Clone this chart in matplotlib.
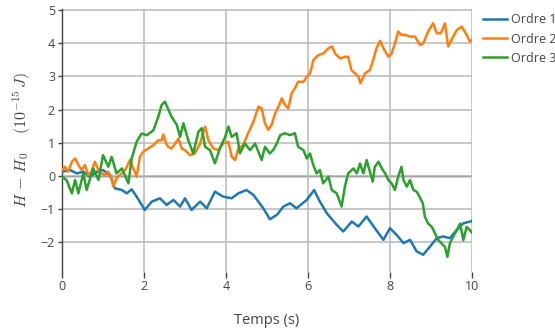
import matplotlib
matplotlib.use("Agg")
import matplotlib.pyplot as plt

plt.rcParams['font.family'] = ['Open Sans', 'DejaVu Sans']
plt.rcParams['mathtext.fontset'] = 'cm'

# Ordre 1 (blue)
t1 = [0.0, 0.2, 0.36, 0.52, 0.68, 0.85, 1.0, 1.17, 1.29, 1.46, 1.58, 1.7, 1.82,
      2.02, 2.19, 2.39, 2.55, 2.72, 2.88, 3.0, 3.16, 3.37, 3.53, 3.73, 3.93,
      4.14, 4.3, 4.5, 4.67, 4.91, 5.07, 5.24, 5.4, 5.56, 5.72, 5.97, 6.15,
      6.29, 6.46, 6.7, 6.86, 7.07, 7.23, 7.43, 7.63, 7.84, 8.0, 8.16, 8.33,
      8.49, 8.65, 8.81, 8.98, 9.14, 9.3, 9.46, 9.63, 9.79, 9.97, 10.0]
h1 = [0.13, 0.18, 0.08, 0.13, -0.02, 0.13, 0.18, 0.03, -0.37, -0.42, -0.52, -0.4, -0.62,
      -1.02, -0.77, -0.67, -0.87, -0.72, -0.92, -0.67, -1.02, -0.77, -0.97, -0.47, -0.62,
      -0.67, -0.52, -0.42, -0.57, -0.97, -1.3, -1.17, -0.92, -0.82, -0.97, -0.72, -0.42,
      -0.77, -1.12, -1.47, -1.67, -1.37, -1.52, -1.22, -1.57, -1.92, -1.57, -1.77, -2.02,
      -1.92, -2.27, -2.37, -2.12, -1.87, -1.82, -1.87, -1.62, -1.42, -1.37, -1.35]

# Ordre 2 (orange)
t2 = [0.0, 0.07, 0.15, 0.24, 0.32, 0.4, 0.48, 0.56, 0.64, 0.72, 0.8, 0.89, 0.97,
      1.05, 1.13, 1.21, 1.25, 1.33, 1.41, 1.54, 1.66, 1.74, 1.82, 1.9, 1.98, 2.1,
      2.23, 2.35, 2.43, 2.47, 2.55, 2.59, 2.67, 2.76, 2.84, 2.92, 3.0, 3.12, 3.24,
      3.37, 3.45, 3.49, 3.57, 3.69, 3.81, 3.93, 4.06, 4.14, 4.22, 4.3, 4.42, 4.54,
      4.67, 4.79, 4.87, 4.95, 5.03, 5.11, 5.2, 5.28, 5.36, 5.44, 5.52, 5.6, 5.68,
      5.76, 5.89, 5.97, 6.05, 6.13, 6.25, 6.37, 6.5, 6.59, 6.66, 6.78, 6.9, 6.98,
      7.06, 7.15, 7.23, 7.28, 7.39, 7.51, 7.59, 7.67, 7.76, 7.84, 7.96, 8.04, 8.12,
      8.2, 8.28, 8.37, 8.49, 8.61, 8.73, 8.81, 8.93, 9.05, 9.14, 9.24, 9.34, 9.42,
      9.5, 9.63, 9.75, 9.87, 9.95, 10.0]
h2 = [0.18, 0.28, 0.13, 0.43, 0.53, 0.33, 0.18, 0.33, 0.03, 0.13, 0.43, 0.18, 0.08,
      0.03, 0.13, -0.07, -0.32, -0.07, 0.03, 0.18, 0.48, 0.23, -0.02, 0.58, 0.73, 0.83,
      0.93, 1.08, 1.08, 1.25, 0.95, 0.88, 0.83, 0.98, 1.13, 0.83, 0.78, 0.63, 0.68,
      0.98, 1.34, 1.49, 1.08, 0.83, 0.78, 0.98, 1.03, 0.58, 0.48, 0.83, 0.93, 1.29,
      1.64, 2.09, 2.04, 1.59, 1.39, 1.54, 1.89, 2.09, 2.34, 2.14, 2.04, 2.49, 2.64,
      2.84, 2.84, 2.99, 3.09, 3.49, 3.64, 3.69, 3.85, 3.9, 3.69, 3.54, 3.59, 3.59,
      3.19, 3.09, 2.99, 2.79, 3.09, 3.19, 3.49, 3.85, 4.07, 3.85, 3.59, 3.69, 3.99,
      4.35, 4.25, 4.25, 4.2, 4.2, 3.95, 3.99, 4.35, 4.6, 4.3, 4.3, 4.6, 3.9,
      4.1, 4.4, 4.5, 4.25, 4.05, 4.1]

# Ordre 3 (green)
t3 = [0.0, 0.11, 0.24, 0.32, 0.4, 0.52, 0.6, 0.76, 0.89, 1.0, 1.13, 1.21, 1.33,
      1.46, 1.62, 1.7, 1.82, 1.94, 2.07, 2.23, 2.35, 2.43, 2.51, 2.67, 2.8, 2.88,
      2.96, 3.08, 3.2, 3.33, 3.41, 3.49, 3.61, 3.73, 3.85, 3.98, 4.06, 4.14, 4.26,
      4.34, 4.46, 4.59, 4.71, 4.87, 4.95, 5.07, 5.15, 5.24, 5.32, 5.44, 5.56, 5.68,
      5.76, 5.89, 5.97, 6.05, 6.13, 6.21, 6.29, 6.37, 6.5, 6.58, 6.7, 6.82, 6.9,
      6.98, 7.11, 7.19, 7.27, 7.35, 7.43, 7.51, 7.58, 7.63, 7.72, 7.8, 7.88, 7.96,
      8.04, 8.12, 8.2, 8.28, 8.33, 8.41, 8.49, 8.57, 8.65, 8.72, 8.8, 8.85, 8.93,
      9.02, 9.1, 9.18, 9.26, 9.34, 9.4, 9.46, 9.54, 9.63, 9.71, 9.79, 9.87, 9.95, 10.0]
h3 = [-0.02, -0.12, -0.52, -0.12, -0.52, 0.08, -0.42, 0.23, -0.12, 0.63, 0.28, 0.58, 0.08,
      0.23, -0.22, 0.53, 1.03, 1.28, 1.23, 1.38, 1.79, 2.14, 2.24, 1.79, 1.54, 1.18,
      1.59, 1.08, 0.68, 1.34, 1.44, 0.88, 0.78, 0.38, 0.83, 1.18, 1.49, 1.18, 1.29,
      0.68, 0.98, 0.78, 0.98, 0.48, 0.88, 0.68, 0.78, 0.98, 1.23, 1.29, 1.23, 1.29,
      0.88, 0.78, 0.53, 0.68, 0.33, 0.08, 0.18, -0.22, -0.02, -0.42, -0.52, -0.92, -0.32,
      0.08, 0.23, 0.08, 0.38, 0.08, 0.48, 0.13, -0.17, 0.28, 0.43, 0.23, 0.08, -0.12,
      -0.22, -0.42, -0.02, 0.28, -0.12, -0.32, -0.12, -0.42, -0.47, -0.62, -0.82, -1.22, -1.43,
      -1.53, -1.73, -1.93, -2.03, -2.13, -2.43, -2.03, -1.83, -1.63, -1.43, -1.93, -1.53, -1.63, -1.7]

labels = ['Ordre 1', 'Ordre 2', 'Ordre 3']
colors = ['#1f77b4', '#ff7f0e', '#2ca02c']

fig = plt.figure(figsize=(5.55, 3.31), dpi=100)
ax = fig.add_axes([0.1117, 0.1782, 0.7387, 0.7946])

for t, h, lab, c in zip([t1, t2, t3], [h1, h2, h3], labels, colors):
    ax.plot(t, h, color=c, lw=1.8, label=lab, zorder=3)

ax.set_xlim(0, 10)
ax.set_ylim(-2.89, 5.03)
ax.set_xticks([0, 2, 4, 6, 8, 10])
ax.set_yticks([-2, -1, 0, 1, 2, 3, 4, 5])
ax.grid(True, color='#bdbdbd', lw=1.2, zorder=0)
ax.axhline(0, color='#222222', lw=1.0, zorder=1)

for s in ['top', 'right', 'bottom']:
    ax.spines[s].set_visible(False)
ax.spines['left'].set_color('#444444')
ax.spines['left'].set_linewidth(1.0)

ax.tick_params(axis='x', length=4, width=1, color='#444444', pad=2,
               labelsize=9, labelcolor='#444444')
ax.tick_params(axis='y', length=3, width=1, color='#444444', pad=2,
               labelsize=9, labelcolor='#444444')

ax.set_xlabel('Temps (s)', fontsize=10.5, color='#444444', labelpad=14)
fig.text(0.04, 0.577, r'$H\,-\,H_0 \quad\ (10^{-15}\,J)$', rotation=90,
         fontsize=11.5, color='#444444', ha='center', va='center')

fig.legend(loc='upper left', bbox_to_anchor=(0.862, 0.975), frameon=False,
           fontsize=9, handlelength=1.9, handletextpad=0.3, labelspacing=0.5,
           borderaxespad=0, labelcolor='#444444')

fig.savefig('out.png', dpi=100)
